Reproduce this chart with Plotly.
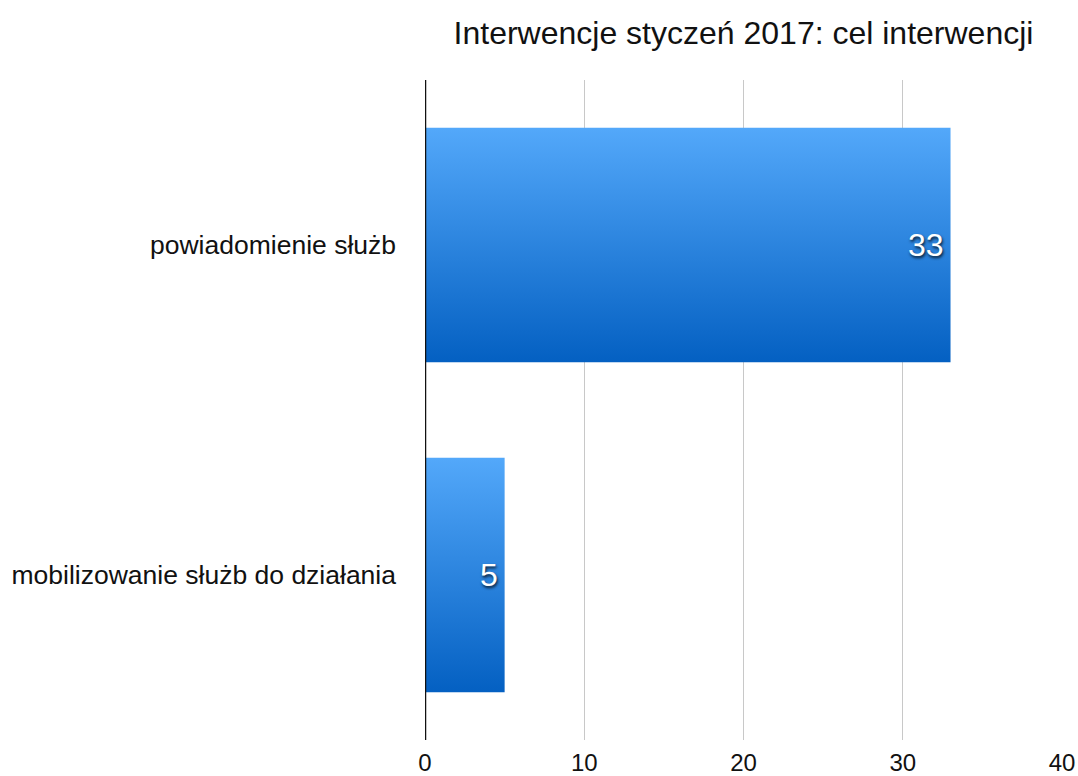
import plotly.graph_objects as go

categories = ["mobilizowanie służb do działania", "powiadomienie służb"]
values = [5, 33]
x_ticks = [0, 10, 20, 30, 40]
title = "Interwencje styczeń 2017: cel interwencji"

bar_half = 0.355
light = "#53a8fa"
dark = "#0460c2"
font_family = "Liberation Sans, Arial, Helvetica, sans-serif"

fig = go.Figure()
for i, (cat, v) in enumerate(zip(categories, values)):
    fig.add_trace(go.Scatter(
        x=[0, v, v, 0, 0],
        y=[i - bar_half, i - bar_half, i + bar_half, i + bar_half, i - bar_half],
        mode="lines",
        fill="toself",
        line=dict(width=0, color=dark),
        fillgradient=dict(type="vertical", colorscale=[[0, dark], [1, light]]),
        hoverinfo="skip",
        showlegend=False,
    ))
    fig.add_annotation(
        x=v, y=i, text=str(v), showarrow=False,
        xanchor="right", yanchor="middle", xshift=-5,
        font=dict(family=font_family, size=32, color="white",
                  shadow="1px 2px 3px rgba(0,0,0,0.8)"),
    )

fig.update_layout(
    width=1078, height=776,
    margin=dict(l=425, r=16, t=80, b=36, autoexpand=False),
    paper_bgcolor="white", plot_bgcolor="white",
    title=dict(text=title, x=(425 + 1062) / 2 / 1078, xanchor="center",
               y=1 - 33 / 776, yanchor="middle",
               font=dict(family=font_family, size=32, color="#111")),
    font=dict(family=font_family, color="#111"),
    xaxis=dict(range=[0, 40], tickvals=x_ticks, showgrid=True,
               gridcolor="#c8c8c8", gridwidth=1, zeroline=False,
               showline=False, tickfont=dict(size=24), ticklabelstandoff=6,
               automargin=False, fixedrange=True),
    yaxis=dict(range=[-0.5, 1.5], tickvals=list(range(len(categories))),
               ticktext=categories, showgrid=False, zeroline=False,
               showline=False, tickfont=dict(size=26.5), ticklabelstandoff=28,
               automargin=False, fixedrange=True),
    shapes=[dict(type="line", xref="x", yref="paper", x0=0, x1=0, y0=0, y1=1,
                 line=dict(color="#111", width=2.5), layer="above")],
)

fig.write_html("out.html")
